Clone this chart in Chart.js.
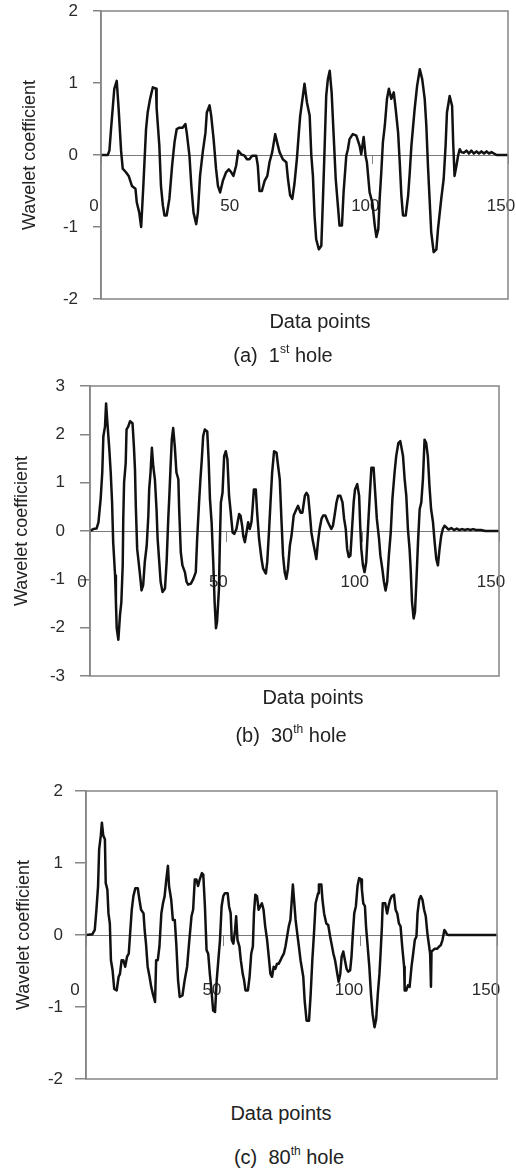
<!DOCTYPE html>
<html>
<head>
<meta charset="utf-8">
<script src="https://cdn.jsdelivr.net/npm/chart.js@4/dist/chart.umd.min.js"></script>
<style>
  html, body { margin: 0; padding: 0; background: #fff; }
  body { width: 516px; height: 1172px; position: relative; overflow: hidden;
         font-family: "Liberation Sans", Arial, Helvetica, sans-serif; color: #222; }
  canvas { position: absolute; left: 0; }
  .lbl { position: absolute; width: 300px; text-align: center; line-height: 24px; white-space: nowrap; }
  .lbl sup { font-size: 0.6em; vertical-align: 0.75em; line-height: 0; }
</style>
</head>
<body>
<canvas id="ca" width="516" height="310" style="top:0px"></canvas>
<canvas id="cb" width="516" height="320" style="top:370px"></canvas>
<canvas id="cc" width="516" height="320" style="top:770px"></canvas>

<div class="lbl" style="left:170px; top:309px; font-size:20px;">Data points</div>
<div class="lbl" style="left:133px; top:343px; font-size:20px;">(a)&nbsp;&nbsp;1<sup>st</sup> hole</div>
<div class="lbl" style="left:163px; top:685px; font-size:20px;">Data points</div>
<div class="lbl" style="left:141px; top:723px; font-size:20px;">(b)&nbsp;&nbsp;30<sup>th</sup> hole</div>
<div class="lbl" style="left:131px; top:1101px; font-size:20px;">Data points</div>
<div class="lbl" style="left:139px; top:1145px; font-size:20px;">(c)&nbsp;&nbsp;80<sup>th</sup> hole</div>

<script>
// ---------- DATA ----------
const xTicks = [0, 50, 100, 150];
const yTitle = "Wavelet coefficient";

// (a) 1st hole
const xA = [0,2.5,3.1,3.7,4.9,5.8,6.5,7.4,8.0,9.2,10.2,11.4,12.7,13.2,14.1,14.8,15.6,16.6,17.2,18.1,19.1,20.3,20.5,21.5,22.1,22.8,23.4,24.2,25.2,26.2,27.1,27.9,28.9,30.1,31.1,31.6,32.6,33.3,34.1,35.1,35.7,36.5,37.5,38.5,39.0,40.0,40.6,41.5,41.9,42.4,43.1,43.9,44.9,46.1,47.1,48.0,48.8,49.8,50.6,51.7,52.9,53.8,54.7,55.7,57.2,57.8,58.4,59.3,60.3,61.3,62.1,63.1,64.2,65.2,65.8,67.0,68.3,68.9,69.7,70.5,71.3,72.2,72.9,73.4,74.4,75.0,75.9,76.9,77.5,78.1,78.7,79.3,80.3,81.2,81.8,82.4,83.0,83.6,84.3,85.0,85.7,86.5,87.3,87.9,88.8,89.4,90.4,91.0,91.6,92.8,94.1,95.3,95.9,96.8,97.5,98.0,99.0,100.0,100.9,101.5,102.2,102.7,103.3,103.9,104.6,105.4,106.1,107.0,107.9,108.6,109.5,110.1,110.7,111.3,112.3,113.2,113.8,114.4,115.6,116.5,117.5,118.4,119.3,119.9,120.5,121.1,121.7,122.6,123.6,124.2,125.4,126.3,127.0,127.5,128.5,129.4,129.8,130.3,131.0,131.6,132.2,132.8,133.7,134.7,135.6,136.5,137.4,138.4,139.3,140.2,141.2,142.1,143.0,143.9,145.8,150];
const yA = [0,0,0.06,0.36,0.92,1.03,0.64,0.06,-0.19,-0.24,-0.29,-0.43,-0.47,-0.66,-0.8,-1.0,-0.43,0.36,0.59,0.78,0.94,0.92,0.65,0.13,-0.43,-0.7,-0.84,-0.84,-0.61,-0.15,0.18,0.36,0.38,0.38,0.43,0.31,-0.01,-0.43,-0.8,-0.96,-0.8,-0.29,0.04,0.31,0.59,0.69,0.55,0.22,0.04,-0.19,-0.43,-0.52,-0.36,-0.24,-0.2,-0.24,-0.29,-0.15,0.06,0.01,-0.01,-0.06,-0.06,-0.01,-0.01,-0.15,-0.5,-0.5,-0.36,-0.29,-0.1,0.04,0.29,0.13,0.04,-0.06,-0.1,-0.33,-0.56,-0.61,-0.4,-0.05,0.3,0.54,0.82,0.99,0.73,0.55,0.0,-0.29,-0.84,-1.17,-1.31,-1.26,-0.61,0.08,0.82,1.05,1.17,0.87,0.31,-0.33,-0.7,-0.98,-0.98,-0.52,-0.01,0.08,0.22,0.29,0.27,0.13,0.01,0.25,-0.01,-0.1,-0.52,-0.66,-0.98,-1.14,-1.03,-0.61,-0.24,0.18,0.41,0.78,0.92,0.78,0.87,0.64,0.31,-0.1,-0.56,-0.84,-0.84,-0.56,-0.24,0.13,0.64,0.96,1.19,1.05,0.78,0.41,-0.15,-0.61,-1.07,-1.35,-1.31,-1.03,-0.61,-0.33,0.13,0.59,0.82,0.68,0.17,-0.29,-0.15,-0.01,0.08,0.04,0.03,0.06,0.02,0.06,0.02,0.05,0.02,0.05,0.02,0.05,0.02,0.04,0.0,0.0];

// (b) 30th hole
const xB = [0,1.2,2.4,3.1,3.9,4.5,4.9,5.5,5.9,6.3,7.1,7.6,8.1,8.5,9.2,9.5,9.8,10.4,11.0,11.5,12.0,12.2,12.5,13.1,13.4,14.0,14.7,15.6,16.1,16.5,16.8,17.3,18.1,18.6,18.9,19.5,20.1,20.8,21.4,21.7,22.2,22.7,23.2,23.8,24.4,24.8,25.4,25.9,26.6,27.5,28.1,28.7,29.1,29.5,30.0,30.5,31.1,31.7,32.4,32.7,33.3,33.9,34.8,35.4,36.0,37.0,37.9,38.8,39.3,40.0,40.5,41.0,41.5,42.1,43.0,43.5,44.0,44.6,45.2,45.7,46.2,46.6,47.3,47.6,48.0,48.6,49.2,49.8,50.4,51.0,51.5,52.3,52.9,53.7,54.7,55.2,55.8,56.2,56.8,57.4,58.0,58.6,59.2,59.6,60.1,60.8,61.3,62.0,62.9,63.5,64.5,65.0,65.7,66.2,66.8,67.5,68.4,69.0,69.6,70.2,70.8,71.4,72.0,72.6,73.3,73.9,74.7,75.7,76.3,77.2,77.9,78.8,79.4,80.0,80.6,81.2,81.8,82.4,83.0,83.6,84.2,84.9,85.5,86.3,87.3,88.5,89.1,89.7,90.4,91.0,91.8,92.6,93.2,93.8,94.3,94.9,95.5,96.1,96.7,97.2,98.0,98.7,99.1,99.5,100.1,100.7,101.3,102.0,102.6,103.2,104.0,104.6,105.2,106.0,106.5,107.2,107.8,108.4,109.0,109.6,110.3,110.9,111.7,112.3,113.1,113.8,114.8,115.4,116.0,116.6,117.2,117.6,118.1,118.7,119.2,119.7,120.3,120.9,121.5,122.1,122.7,123.3,123.9,124.5,125.1,125.8,126.4,127.0,127.6,128.2,128.8,129.4,130.0,130.6,131.5,132.5,133.5,134.5,135.5,136.5,137.5,138.5,139.5,140.5,141.5,143.4,145,150];
const yB = [0,0.04,0.05,0.18,0.66,1.21,1.96,2.16,2.64,2.30,1.68,1.21,0.59,-0.23,-0.92,-1.47,-2.01,-2.25,-1.74,-1.47,-0.71,0.25,1.0,1.41,2.10,2.16,2.27,2.23,1.75,1.27,0.52,-0.37,-0.78,-1.05,-1.23,-1.12,-0.64,-0.30,0.32,0.86,1.21,1.72,1.34,1.07,0.45,-0.16,-0.64,-1.05,-1.26,-1.19,-0.64,0.25,0.73,1.27,1.89,2.13,1.75,1.21,1.07,0.45,-0.44,-0.71,-0.85,-1.05,-1.11,-1.09,-0.99,-0.85,-0.16,0.59,1.07,1.48,1.96,2.10,2.06,1.48,0.66,0.18,-0.64,-1.47,-2.01,-1.88,-1.19,-0.30,0.59,0.79,1.55,1.65,1.48,0.73,0.45,-0.03,-0.06,0.04,0.35,0.32,0.11,-0.10,-0.23,-0.03,0.18,0.04,0.18,0.45,0.86,0.86,0.38,-0.16,-0.58,-0.78,-0.88,-0.64,0.04,0.59,1.21,1.65,1.62,1.34,1.07,0.25,-0.51,-0.85,-0.99,-0.78,-0.30,-0.10,0.32,0.45,0.52,0.38,0.38,0.73,0.79,0.73,0.38,-0.03,-0.23,-0.40,-0.58,-0.23,0.04,0.25,0.32,0.32,0.18,0.04,0.11,0.32,0.59,0.73,0.73,0.59,0.25,0.04,-0.37,-0.54,-0.51,0.04,0.59,0.86,0.97,0.73,0.11,-0.37,-0.71,-0.85,-0.64,0.11,0.73,1.31,1.31,0.79,0.25,-0.16,-0.51,-0.78,-1.05,-1.23,-1.05,-0.51,-0.03,0.66,1.21,1.55,1.82,1.86,1.55,1.07,0.73,0.04,-0.37,-0.78,-1.47,-1.81,-1.67,-1.05,-0.23,0.45,0.59,1.07,1.89,1.82,1.55,0.93,0.45,0.18,-0.23,-0.58,-0.71,-0.37,-0.10,0.04,0.11,0.08,0.03,0.06,0.02,0.05,0.02,0.04,0.02,0.04,0.02,0.04,0.02,0.02,0,0];

// (c) 80th hole
const xC = [0,2.3,3.2,3.8,4.4,4.8,5.4,5.8,6.3,6.9,7.2,7.8,8.2,8.7,9.1,9.7,10.3,11.2,11.9,12.4,13.0,13.6,14.3,15.0,15.6,16.1,16.7,17.3,18.0,18.9,19.5,20.1,21.0,21.4,21.9,22.5,23.2,23.8,24.4,25.2,25.6,26.2,26.8,27.5,28.1,28.7,29.3,29.9,30.3,31.1,31.7,32.4,33.0,33.6,34.2,35.2,36.0,36.9,37.6,38.5,39.1,39.7,40.3,40.9,41.5,42.3,42.8,43.4,44.0,44.6,45.2,45.8,46.4,47.1,47.7,48.3,48.9,49.5,50.1,50.7,51.7,52.2,52.8,53.2,53.8,54.4,54.8,55.3,56.0,56.5,57.2,57.7,58.2,59.1,59.7,60.3,60.9,61.3,61.8,62.4,63.0,63.6,64.2,64.8,65.4,66.1,66.7,67.3,67.9,68.5,69.1,69.7,70.3,71.0,71.6,72.2,72.8,73.4,74.0,74.6,75.5,76.5,77.1,77.7,78.3,79.3,79.8,80.5,81.4,82.0,82.6,83.2,83.8,84.7,85.0,85.9,86.3,86.9,87.7,88.4,89.1,89.6,90.3,90.9,91.5,92.2,92.8,93.3,93.9,94.5,95.1,95.7,96.4,96.9,97.4,97.9,98.5,99.1,99.7,100.4,100.7,101.2,101.8,102.2,102.8,103.4,104.0,104.6,105.3,105.9,106.5,107.1,107.5,108.0,108.3,109.2,109.9,110.4,111.0,111.6,112.4,113.0,113.6,114.2,114.8,115.4,116.1,116.3,116.9,117.5,118.1,118.8,119.4,120.0,120.6,121.0,121.6,122.2,122.8,123.4,124.0,124.6,125.1,125.6,125.9,126.1,126.7,127.3,128.2,128.9,129.5,130.1,130.8,131.2,131.7,132.2,150];
const yC = [0,0.01,0.07,0.35,0.68,1.19,1.38,1.56,1.38,1.33,0.72,0.63,0.30,0.16,-0.35,-0.49,-0.75,-0.77,-0.58,-0.54,-0.35,-0.35,-0.44,-0.30,-0.26,0.02,0.35,0.54,0.65,0.65,0.49,0.35,0.30,0.07,-0.12,-0.44,-0.58,-0.72,-0.82,-0.93,-0.35,-0.35,-0.16,0.30,0.44,0.54,0.77,0.96,0.68,0.49,0.21,0.21,-0.16,-0.63,-0.86,-0.84,-0.63,-0.44,-0.12,0.26,0.35,0.77,0.77,0.68,0.77,0.86,0.84,0.40,-0.21,-0.26,-0.54,-0.77,-1.05,-1.07,-0.63,-0.35,-0.07,0.40,0.54,0.58,0.58,0.40,0.30,-0.07,-0.12,0.07,0.26,-0.07,-0.16,-0.35,-0.54,-0.63,-0.77,-0.77,-0.58,-0.26,-0.16,0.30,0.56,0.54,0.35,0.40,0.44,0.35,0.12,-0.07,-0.30,-0.54,-0.58,-0.44,-0.47,-0.40,-0.40,-0.35,-0.30,-0.26,-0.16,-0.02,0.12,0.21,0.70,0.21,0.02,-0.16,-0.35,-0.58,-0.91,-1.19,-1.19,-0.82,-0.35,0.02,0.44,0.58,0.70,0.70,0.49,0.30,0.16,0.14,-0.02,-0.12,-0.26,-0.35,-0.49,-0.65,-0.54,-0.30,-0.23,-0.35,-0.47,-0.51,-0.49,-0.30,0.02,0.30,0.40,0.68,0.79,0.77,0.63,0.44,0.40,0.12,-0.16,-0.44,-0.82,-1.10,-1.28,-1.17,-0.82,-0.54,-0.26,0.12,0.44,0.44,0.30,0.40,0.49,0.54,0.56,0.35,0.30,0.16,0.12,-0.16,-0.44,-0.77,-0.77,-0.70,-0.72,-0.44,-0.26,-0.07,-0.02,0.30,0.49,0.54,0.49,0.35,0.26,0.02,-0.12,-0.26,-0.72,-0.23,-0.21,-0.19,-0.19,-0.16,-0.14,-0.07,0.07,0.05,0.01,0,0];

// ---------- RENDERING ----------
const FONT = '"Liberation Sans", Arial, Helvetica, sans-serif';
const AXIS_GRAY = '#858585';

const framePlugin = {
  id: 'frame',
  afterDraw(chart) {
    const a = chart.chartArea, ctx = chart.ctx;
    ctx.save();
    ctx.strokeStyle = AXIS_GRAY;
    ctx.lineWidth = 1.5;
    ctx.strokeRect(a.left, a.top, a.right - a.left, a.bottom - a.top);
    ctx.restore();
  }
};

function makeChart(id, xs, ys, cfg) {
  const pts = xs.map((x, i) => ({ x: x, y: ys[i] }));
  new Chart(document.getElementById(id), {
    type: 'line',
    data: { datasets: [{ data: pts, borderColor: '#111', borderWidth: 2.5,
      pointRadius: 0, tension: 0, fill: false, borderJoinStyle: 'round' }] },
    options: {
      responsive: false, animation: false, events: [],
      layout: { padding: cfg.pad },
      plugins: { legend: { display: false }, tooltip: { enabled: false } },
      scales: {
        x: {
          type: 'linear', min: 0, max: 150,
          position: { y: 0 },
          afterBuildTicks: s => { s.ticks = xTicks.map(v => ({ value: v })); },
          afterFit: s => { s.paddingLeft = 0; s.paddingRight = 0; },
          border: { display: true, color: '#7a7a7a', width: 1 },
          grid: { display: true, drawOnChartArea: false, drawTicks: true,
                  tickLength: cfg.xtl, color: AXIS_GRAY, lineWidth: 1 },
          ticks: { padding: cfg.xpad, labelOffset: cfg.xoff, maxRotation: 0,
                   color: '#2a2a2a', font: { family: FONT, size: 17 } }
        },
        y: {
          type: 'linear', min: -cfg.ymax, max: cfg.ymax,
          afterBuildTicks: s => { const t = []; for (let v = -cfg.ymax; v <= cfg.ymax; v++) t.push({ value: v }); s.ticks = t; },
          afterFit: s => { s.width = cfg.yw; s.paddingTop = 0; s.paddingBottom = 0; },
          border: { display: true, color: AXIS_GRAY, width: 1.5 },
          grid: { display: true, drawOnChartArea: false, drawTicks: true,
                  tickLength: cfg.ytl, color: AXIS_GRAY, lineWidth: 1.5 },
          ticks: { padding: cfg.ypad, color: '#2a2a2a', font: { family: FONT, size: 17 } },
          title: { display: true, text: yTitle, padding: 0, color: '#222',
                   font: { family: FONT, size: 18 } }
        }
      }
    },
    plugins: [framePlugin]
  });
}

makeChart('ca', xA, yA, { pad: { left: 19, top: 11, right: 8, bottom: 11 }, yw: 82, ymax: 2,
  xtl: 8, xpad: 33, xoff: -7, ytl: 8, ypad: 15 });
makeChart('cb', xB, yB, { pad: { left: 11, top: 16, right: 17, bottom: 14 }, yw: 79, ymax: 3,
  xtl: 10, xpad: 31, xoff: -8, ytl: 10, ypad: 15 });
makeChart('cc', xC, yC, { pad: { left: 13, top: 21, right: 19, bottom: 11 }, yw: 73, ymax: 2,
  xtl: 10, xpad: 35, xoff: -11, ytl: 11, ypad: 12 });
</script>
</body>
</html>
